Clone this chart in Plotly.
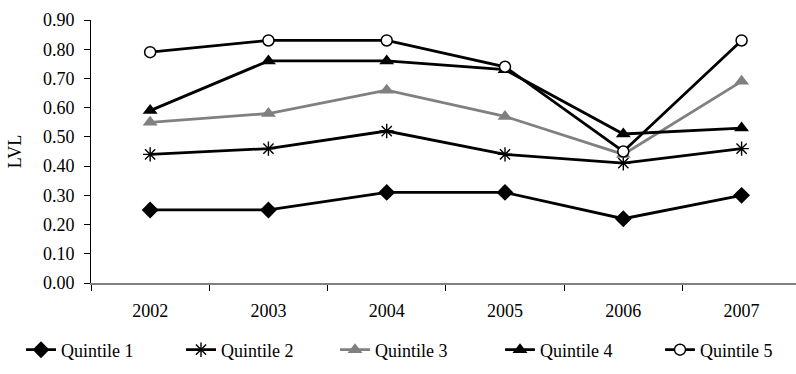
import plotly.graph_objects as go

years = ["2002", "2003", "2004", "2005", "2006", "2007"]
q1 = [0.25, 0.25, 0.31, 0.31, 0.22, 0.30]
q2 = [0.44, 0.46, 0.52, 0.44, 0.41, 0.46]
q3 = [0.55, 0.58, 0.66, 0.57, 0.44, 0.69]
q4 = [0.59, 0.76, 0.76, 0.73, 0.51, 0.53]
q5 = [0.79, 0.83, 0.83, 0.74, 0.45, 0.83]
names = ["Quintile 1", "Quintile 2", "Quintile 3", "Quintile 4", "Quintile 5"]
y_ticks = [0.0, 0.1, 0.2, 0.3, 0.4, 0.5, 0.6, 0.7, 0.8, 0.9]

FONT = "Liberation Serif, Times New Roman, serif"
W, H = 796, 374

styles = [
    dict(line=dict(color="black", width=2.8),
         marker=dict(symbol="diamond", size=13, color="black")),
    dict(line=dict(color="black", width=2.8),
         marker=dict(symbol="asterisk-open", size=12, color="black",
                     line=dict(color="black", width=1.4))),
    dict(line=dict(color="#808080", width=2.8),
         marker=dict(symbol="triangle-up", size=13, color="#808080")),
    dict(line=dict(color="black", width=2.8),
         marker=dict(symbol="triangle-up", size=13, color="black")),
    dict(line=dict(color="black", width=2.8),
         marker=dict(symbol="circle", size=11, color="white",
                     line=dict(color="black", width=1.5))),
]

legend_ids = ["legend", "legend2", "legend3", "legend4", "legend5"]
legend_x_px = [21, 181, 335, 500, 660]

fig = go.Figure()
for name, vals, st, lid in zip(names, [q1, q2, q3, q4, q5], styles, legend_ids):
    fig.add_trace(go.Scatter(x=years, y=vals, name=name, mode="lines+markers",
                             line=st["line"], marker=st["marker"], legend=lid))

legend_layout = {}
for lid, lx in zip(legend_ids, legend_x_px):
    legend_layout[lid] = dict(
        orientation="h", x=lx / W, xanchor="left", y=(H - 350) / H, yanchor="middle",
        xref="container", yref="container", bgcolor="rgba(0,0,0,0)",
        font=dict(family=FONT, size=18, color="black"),
        itemclick=False, itemdoubleclick=False,
    )

fig.update_layout(
    width=W, height=H,
    margin=dict(l=91, r=0, t=20, b=91, autoexpand=False),
    paper_bgcolor="white", plot_bgcolor="white",
    font=dict(family=FONT, size=18, color="black"),
    showlegend=True,
    **legend_layout,
)

fig.update_xaxes(
    type="category", range=[-0.5, 5.46],
    showline=True, linecolor="#808080", linewidth=2,
    ticks="outside", ticklen=6, tickcolor="black", tickwidth=1,
    tickson="boundaries", showgrid=False, zeroline=False,
    ticklabelstandoff=10, automargin=False,
    tickfont=dict(family=FONT, size=18, color="black"),
)
fig.update_yaxes(
    range=[0, 0.9], tickvals=y_ticks, tickformat=".2f",
    showline=True, linecolor="black", linewidth=1,
    ticks="outside", ticklen=6, tickcolor="black",
    showgrid=False, zeroline=False, automargin=False,
    ticklabelstandoff=6,
    tickfont=dict(family=FONT, size=18, color="black"),
    title=dict(text="LVL", font=dict(family=FONT, size=18, color="black"), standoff=16),
)

fig.write_html("out.html", config={"displayModeBar": False},
               post_script="document.body.style.margin='0px';")
